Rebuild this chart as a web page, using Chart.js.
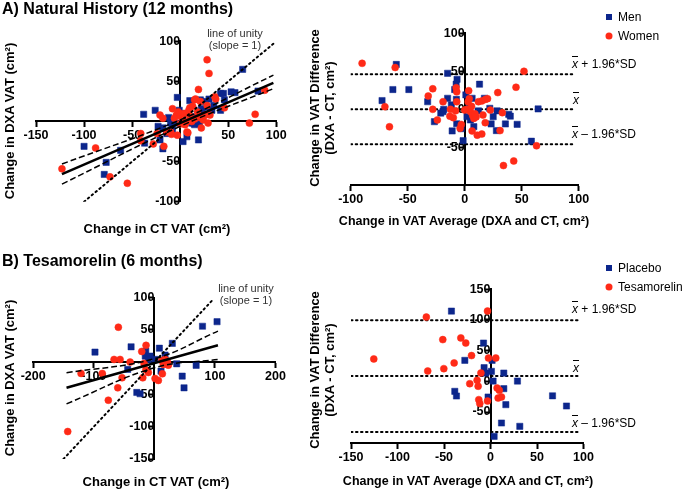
<!DOCTYPE html>
<html><head><meta charset="utf-8">
<script src="https://cdn.jsdelivr.net/npm/chart.js@4"></script>
<style>
body{margin:0;width:685px;height:489px;position:relative;background:#fff;font-family:"Liberation Sans",Arial,sans-serif;overflow:hidden}
canvas{position:absolute;left:0;top:0}
.t{position:absolute;white-space:nowrap;color:#000;line-height:1}
.h{font-weight:bold;font-size:16px}
.ax{font-weight:bold;font-size:13px;transform:translate(-50%,-50%)}
.ax2{font-size:12.5px}
.rot{transform:translate(-50%,-50%) rotate(-90deg);text-align:center}
.rot2{transform:translate(-50%,-50%) rotate(-90deg);text-align:center;line-height:15px}
.note{font-size:11px;color:#333;text-align:center;line-height:12px;transform:translateX(-50%)}
.sd{font-size:12px;transform:translateY(-50%)}
.xb{font-style:italic;text-decoration:overline}
.lg{font-size:12px;transform:translateY(-50%)}
.sq{position:absolute;width:6px;height:6px;background:#0C268C;transform:translate(-50%,-50%)}
.ci{position:absolute;width:7px;height:7px;border-radius:50%;background:#FF2A17;transform:translate(-50%,-50%)}
</style></head><body>
<canvas id="c1" width="685" height="489"></canvas>
<canvas id="c2" width="685" height="489"></canvas>
<canvas id="c3" width="685" height="489"></canvas>
<canvas id="c4" width="685" height="489"></canvas>

<div class="t h" style="left:2px;top:1px">A) Natural History (12 months)</div>
<div class="t h" style="left:2px;top:253px">B) Tesamorelin (6 months)</div>

<div class="t ax rot" style="left:9px;top:121px">Change in DXA VAT (cm²)</div>
<div class="t ax" style="left:157px;top:228px">Change in CT VAT (cm²)</div>
<div class="t ax rot" style="left:9px;top:378px">Change in DXA VAT (cm²)</div>
<div class="t ax" style="left:156px;top:481px">Change in CT VAT (cm²)</div>

<div class="t ax rot2" style="left:322px;top:108px">Change in VAT Difference<br>(DXA - CT, cm²)</div>
<div class="t ax ax2" style="left:464px;top:221px">Change in VAT Average (DXA and CT, cm²)</div>
<div class="t ax rot2" style="left:322px;top:370px">Change in VAT Difference<br>(DXA - CT, cm²)</div>
<div class="t ax ax2" style="left:468px;top:481px">Change in VAT Average (DXA and CT, cm²)</div>

<div class="t note" style="left:235px;top:27px">line of unity<br>(slope = 1)</div>
<div class="t note" style="left:246px;top:282px">line of unity<br>(slope = 1)</div>

<div class="t sd" style="left:572px;top:64px"><span class="xb">x</span> + 1.96*SD</div>
<div class="t sd" style="left:573px;top:100px"><span class="xb">x</span></div>
<div class="t sd" style="left:572px;top:134px"><span class="xb">x</span> &#8211; 1.96*SD</div>
<div class="t sd" style="left:572px;top:309px"><span class="xb">x</span> + 1.96*SD</div>
<div class="t sd" style="left:573px;top:368px"><span class="xb">x</span></div>
<div class="t sd" style="left:572px;top:423px"><span class="xb">x</span> &#8211; 1.96*SD</div>

<div class="sq" style="left:609px;top:17px"></div><div class="t lg" style="left:618px;top:17px">Men</div>
<div class="ci" style="left:609px;top:36px"></div><div class="t lg" style="left:618px;top:36px">Women</div>
<div class="sq" style="left:609px;top:268px"></div><div class="t lg" style="left:618px;top:268px">Placebo</div>
<div class="ci" style="left:609px;top:287px"></div><div class="t lg" style="left:618px;top:287px">Tesamorelin</div>

<script>
// ---------- Panel A left: Natural history, CT change (x) vs DXA change (y)
const natMen = [[-100,-31],[-77,-51],[-79,-66],[-62,-36],[-38,9],[-37,-27],[-26,14],[-23,-6],[-18,-34],[-21,-23],[-18,-8],[-14,-15],[-10,-2],[-3,30],[-1,14],[3,-25],[7,-19],[10,26],[14,-2],[19,-23],[21,27],[22,16],[23,12],[26,25],[30,28],[33,14],[35,20],[42,35],[45,35],[46,27],[42,14],[53,37],[57,36],[65,65],[81,38],[-5,-2],[12,-2],[-12,5],[5,10],[16,6],[28,18],[-8,-10],[10,1],[15,-4],[20,-3]];
const natWomen = [[-123,-59],[-88,-33],[-73,-69],[-55,-77],[-41,-15],[-41,-24],[-28,-28],[-24,-15],[-21,8],[-18,4],[-17,-31],[-8,16],[-10,-13],[-14,-13],[-9,-16],[-3,-17],[-1,10],[1,6],[5,-4],[8,-14],[9,14],[10,7],[10,17],[13,19],[15,27],[16,28],[18,12],[19,40],[21,25],[22,-8],[24,2],[28,77],[30,60],[29,-2],[31,8],[26,8],[36,31],[37,28],[28,20],[46,17],[72,-2],[78,9],[88,39],[3,2],[-4,8],[6,-1],[12,0],[15,3],[4,10],[-6,4],[20,5],[0,-3],[7,-13],[-2,12]];
const natFit = [[-123,-65.6],[97,48.2]];
const natUpper = [[-123,-53],[0,2],[97,57.8]];
const natLower = [[-123,-78],[0,-6],[97,41]];
const natUnity = [[-100,-100],[99,99]];
const natXTicks = [-150,-100,-50,50,100];
const natYTicks = [-100,-50,50,100];

// ---------- Panel A right: Bland-Altman, average (x) vs difference (y)
const baMen = [[-72.5,11.5],[-60,59],[-63,26],[-49,26],[-32.5,10],[-26.6,-16.3],[-21,-5],[-19,-3],[-18.4,0],[-15,14.5],[-15,47.4],[-11,-28.5],[-11.7,5.7],[-6.7,39.5],[-7.5,33],[-8.8,26],[-7.3,13],[-7,-19],[-1.4,-41.3],[-3,-25.5],[1,19],[2,-9.7],[5,-14],[8,-22.8],[6.5,14.5],[13,33],[17.3,14.5],[22,1.3],[28.4,-2],[23.2,-19.3],[25,-9.7],[27.8,-28],[35.7,-19.3],[38.6,-6.6],[40,-9],[46,-19.8],[58.5,-42],[64.4,0.5],[12,-2],[4,3]];
const baWomen = [[-90,60.5],[-61,55],[-70,3.4],[-66,-23],[-32,17.5],[-28,27],[-28,0],[-24,-14],[-19,10],[-13,-9],[-12.5,0],[-10,-11],[-8,-2],[-7.5,28.5],[-7,23],[-7,10],[-4,-25],[-3,-20],[3.5,24.5],[3,10],[2,0],[5,-3],[7,-8],[8,-12],[9,-6],[6.5,-28.5],[11,-34],[15,-32.5],[12,10],[15,11],[18,13],[20,14],[16,-7.5],[18,-17.6],[22.5,-1],[29,22],[31,-28],[33,-4.4],[34,-74],[43,-68],[45,29],[52,50],[63,-48],[4,14],[0,-1],[6,4],[10,-10]];
const baNatLevels = [46, 0, -46];
const baNatXRange = [-100, 97];
const baNatXTicks = [-100,-50,0,50,100];
const baNatYTicks = [-50,0,50,100];

// ---------- Panel B left: Tesamorelin, CT change (x) vs DXA change (y)
const tesPlacebo = [[-98,15.5],[-38.4,23.7],[-44,-11.3],[-29,-47],[-23.6,-49],[-15,9.3],[-14.2,17],[-7,9.3],[-10,4],[1.2,4.2],[8.3,21.5],[11,-14],[17.7,10.9],[29.7,29],[36.9,-2.6],[46,-21.7],[49,-39.8],[69,-5],[79.5,55.5],[103.5,62.5]];
const tesDrug = [[-143,-107.5],[-121,-17.5],[-86,-17.5],[-76,-59],[-66.5,4.1],[-59.4,54],[-60.4,-39.8],[-56.6,4.1],[-53.3,-24.3],[-40,0],[-20.8,16.5],[-17,-2],[-13.7,25.9],[-14,-12],[-19.1,-24.3],[-9.9,-16],[1.2,-25.3],[6.6,-28.4],[12.2,2.6],[17.7,4.2],[21.5,0],[23.1,-4.7],[14.9,-3.6],[13.2,-18.1],[20,2]];
const tesFit = [[-145,-39.8],[105,26]];
const tesUpper = [[-145,-16.5],[0,5.2],[105,48]];
const tesLower = [[-145,-64.6],[0,-8.8],[105,4]];
const tesUnity = [[-150,-150],[98,98]];
const tesXTicks = [-200,-100,100,200];
const tesYTicks = [-150,-100,-50,50,100];

// ---------- Panel B right: Bland-Altman
const baPlacebo = [[-42,114.5],[-27.6,34.2],[-38.4,-16.3],[-36.6,-23.9],[-7.5,62.4],[-6.9,22.3],[-5,13.5],[1,16.3],[1.7,34.2],[-2.6,-25.5],[2.8,0.5],[14.3,13.5],[14.3,-11.9],[16.5,-38],[11.8,-67.9],[3.9,-89.6],[29,0.5],[31.5,-73.3],[66.7,-23.6],[81.7,-40.2]];
const baDrug = [[-125.5,36.5],[-69,104.7],[-67.5,16.8],[-51.3,68],[-50.2,20.7],[-39.1,30],[-31.9,70.8],[-26.6,62.4],[-20.4,42],[-22.3,-3.8],[-14.4,1.6],[-13.3,-8],[-12.6,-29.8],[-11.5,-36],[-10.3,13.5],[-3.2,114.5],[-2.2,38],[-3.2,-32.1],[5.7,38],[7.1,-10.9],[9.5,-14.7],[8.2,-27.2],[11.8,-25.5]];
const baTesLevels = [99.5, 8.5, -82.5];
const baTesXRange = [-150, 95];
const baTesXTicks = [-150,-100,-50,0,50,100];
const baTesYTicks = [-50,0,50,100,150];

const BLUE = '#0C268C', RED = '#FF2A17';
Chart.defaults.font.family = '"Liberation Sans", Arial, sans-serif';

const pts = a => a.map(p => ({x:p[0], y:p[1]}));
function sq(data, order){ return {data: pts(data), pointStyle:'rect', pointRadius:4.4, backgroundColor:BLUE, borderColor:BLUE, borderWidth:0.5, order}; }
function ci(data, order){ return {data: pts(data), pointStyle:'circle', pointRadius:3.5, backgroundColor:RED, borderColor:RED, borderWidth:0.5, order}; }
function ln(data, width, dash, order, tension){ return {type:'line', data: pts(data), showLine:true, pointRadius:0, borderColor:'#000', borderWidth:width, borderDash:dash, fill:false, tension: tension||0, order, borderCapStyle: dash.length && dash[0] < 3 ? 'round':'butt'}; }
function hl(level, range, order){ return ln([[range[0],level],[range[1],level]], 2, [1.5,3.5], order); }

function axis(min, max, ticks, pos){
  return {type:'linear', min, max, position: pos,
    afterBuildTicks: a => { a.ticks = ticks.map(v => ({value:v})); },
    ticks:{font:{size:12.5, weight:'bold'}, color:'#000', padding:2, autoSkip:false, maxRotation:0},
    grid:{display:true, drawOnChartArea:false, drawTicks:true, tickLength:5, tickWidth:2, tickColor:'#000'},
    border:{display:true, width:2, color:'#000'}};
}
function make(id, pad, xr, yr, xt, yt, xPos, yPos, datasets){
  new Chart(document.getElementById(id), {
    type:'scatter', data:{datasets},
    options:{responsive:false, animation:false, events:[],
      layout:{padding:pad},
      plugins:{legend:{display:false}, tooltip:{enabled:false}},
      scales:{x: axis(xr[0], xr[1], xt, {y:xPos}), y: axis(yr[0], yr[1], yt, {x:yPos})}}
  });
}

make('c1', {left:36, right:685-276.3, top:41.3, bottom:489-201.7}, [-150,100], [-100,100], natXTicks, natYTicks, 0, 0, [
  sq(natMen, 3), ci(natWomen, 2),
  ln(natUnity, 2, [1.5,3.5], 1), ln(natUpper, 1.5, [6,3], 1, 0.4), ln(natLower, 1.5, [6,3], 1, 0.4), ln(natFit, 2.5, [], 0)
]);
make('c2', {left:350.7, right:685-578.7, top:33.3, bottom:489-185.3}, [-100,100], [-100,100], baNatXTicks, baNatYTicks, -100, 0, [
  hl(baNatLevels[0], baNatXRange, 3), hl(baNatLevels[1], baNatXRange, 3), hl(baNatLevels[2], baNatXRange, 3),
  sq(baMen, 2), ci(baWomen, 1)
]);
make('c3', {left:33.2, right:685-275.5, top:297.5, bottom:489-459}, [-200,200], [-150,100], tesXTicks, tesYTicks, 0, 0, [
  sq(tesPlacebo, 3), ci(tesDrug, 2),
  ln(tesUnity, 2, [1.5,3.5], 1), ln(tesUpper, 1.5, [6,3], 1, 0.4), ln(tesLower, 1.5, [6,3], 1, 0.4), ln(tesFit, 2.5, [], 0)
]);
make('c4', {left:351, right:685-583.5, top:289.3, bottom:489-442.7}, [-150,100], [-100,150], baTesXTicks, baTesYTicks, -100, 0, [
  hl(baTesLevels[0], baTesXRange, 3), hl(baTesLevels[1], baTesXRange, 3), hl(baTesLevels[2], baTesXRange, 3),
  sq(baPlacebo, 2), ci(baDrug, 1)
]);
</script>
</body></html>
